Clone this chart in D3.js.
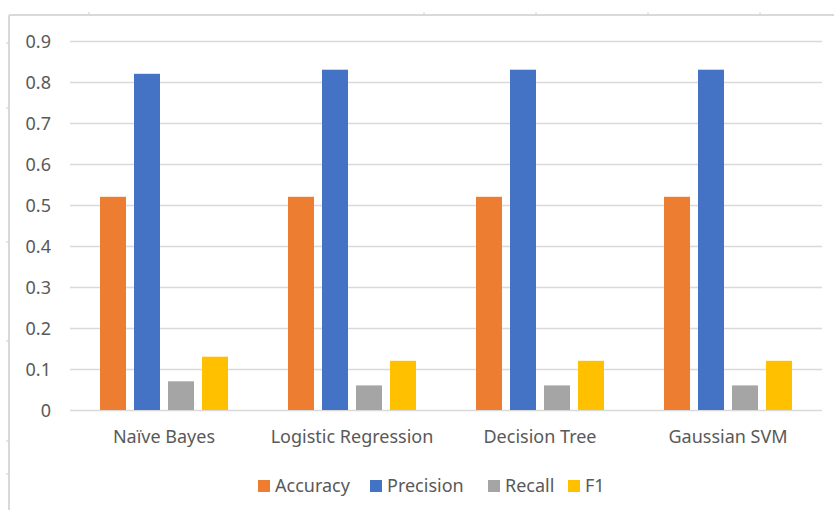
<!DOCTYPE html>
<html>
<head>
<meta charset="utf-8">
<script src="https://cdn.jsdelivr.net/npm/d3@7"></script>
<style>
  body { margin: 0; background: #fff; }
  svg { display: block; font-family: "Noto Sans", "Open Sans", sans-serif; }
  .tickLabel { fill: #595959; font-size: 18px; }
  .yLabel { fill: #595959; font-size: 18px; }
  .legendText { fill: #595959; font-size: 18px; }
</style>
</head>
<body>
<svg width="834" height="511"></svg>
<script>
// chart data
var categories = ["Naïve Bayes", "Logistic Regression", "Decision Tree", "Gaussian SVM"];
var seriesNames = ["Accuracy", "Precision", "Recall", "F1"];
var accuracy = [0.52, 0.52, 0.52, 0.52];
var precision = [0.82, 0.83, 0.83, 0.83];
var recall = [0.07, 0.06, 0.06, 0.06];
var f1 = [0.13, 0.12, 0.12, 0.12];
var yTicks = [0, 0.1, 0.2, 0.3, 0.4, 0.5, 0.6, 0.7, 0.8, 0.9];

var colors = ["#ED7D31", "#4472C4", "#A5A5A5", "#FFC000"];
var seriesValues = [accuracy, precision, recall, f1];

var svg = d3.select("svg");

// frame lines of the cropped screenshot
svg.append("line")
	.attr("x1", 9).attr("y1", 15).attr("x2", 834).attr("y2", 15)
	.style("stroke", "#d9d9d9").style("stroke-width", 2);
svg.append("line")
	.attr("x1", 9).attr("y1", 15).attr("x2", 9).attr("y2", 510)
	.style("stroke", "#d9d9d9").style("stroke-width", 2);

// faint ruler marks on the frame
[89, 424, 536, 648, 760].forEach(function(px) {
	svg.append("line")
		.attr("x1", px).attr("y1", 12).attr("x2", px).attr("y2", 15)
		.style("stroke", "#d0d0d0").style("stroke-width", 1);
});
[43, 108, 242, 341, 441, 474].forEach(function(py) {
	svg.append("line")
		.attr("x1", 6).attr("y1", py).attr("x2", 9).attr("y2", py)
		.style("stroke", "#d0d0d0").style("stroke-width", 1);
});

var plotLeft = 70, plotRight = 822;

var x0 = d3.scaleBand()
	.domain(categories)
	.range([plotLeft, plotRight]);

var groupW = 128;
var x1 = d3.scaleBand()
	.domain(seriesNames)
	.range([0, groupW])
	.paddingInner(8 / 34)
	.paddingOuter(0);

var y = d3.scaleLinear()
	.domain([0, 0.9])
	.range([410, 41]);

// gridlines + y labels
var yAxis = d3.axisLeft(y)
	.tickValues(yTicks)
	.tickSize(-(plotRight - plotLeft))
	.tickFormat(function(d) { return d === 0 ? "0" : d3.format(".1f")(d); })
	.tickPadding(19);

var gAxis = svg.append("g")
	.attr("transform", "translate(" + plotLeft + ",0)")
	.call(yAxis);
gAxis.select(".domain").remove();
gAxis.attr("font-family", null).attr("font-size", null);
gAxis.selectAll(".tick line")
	.style("stroke", "#d9d9d9")
	.style("stroke-width", 1.5);
gAxis.selectAll(".tick text")
	.attr("class", "yLabel")
	.attr("dy", "0.35em");

// bars
var groups = svg.append("g")
	.selectAll("g")
	.data(categories)
	.enter()
	.append("g")
	.attr("transform", function(d) {
		return "translate(" + (x0(d) + (x0.bandwidth() - groupW) / 2) + ",0)";
	});

groups.selectAll("rect")
	.data(function(d, i) {
		return seriesNames.map(function(s, j) {
			return { series: s, value: seriesValues[j][i], color: colors[j] };
		});
	})
	.enter()
	.append("rect")
	.attr("x", function(d) { return x1(d.series); })
	.attr("y", function(d) { return y(d.value); })
	.attr("width", x1.bandwidth())
	.attr("height", function(d) { return y(0) - y(d.value); })
	.style("fill", function(d) { return d.color; });

// category labels
var xAxis = d3.axisBottom(x0).tickSize(0).tickPadding(20);
var gx = svg.append("g")
	.attr("transform", "translate(0," + y(0) + ")")
	.call(xAxis);
gx.select(".domain").remove();
gx.attr("font-family", null).attr("font-size", null);
gx.selectAll(".tick text").attr("class", "tickLabel");

// legend
var legendX = [258, 370, 488, 568];
var legend = svg.append("g").attr("class", "legend");
seriesNames.forEach(function(s, i) {
	legend.append("rect")
		.attr("x", legendX[i])
		.attr("y", 480)
		.attr("width", 12)
		.attr("height", 12)
		.style("fill", colors[i]);
	legend.append("text")
		.attr("class", "legendText")
		.attr("x", legendX[i] + 17)
		.attr("y", 492)
		.text(s);
});
</script>
</body>
</html>
